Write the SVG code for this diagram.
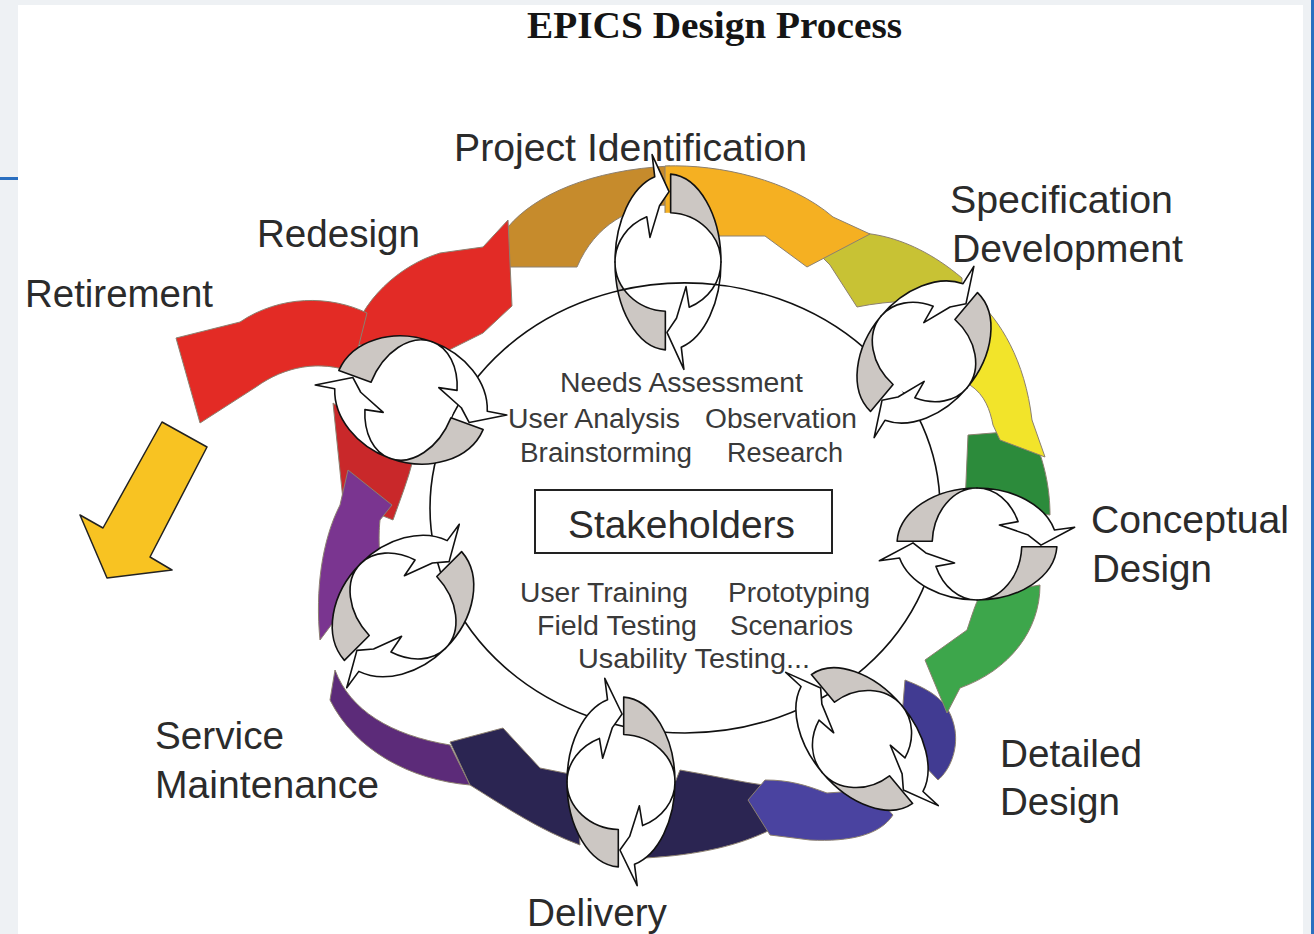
<svg xmlns="http://www.w3.org/2000/svg" xmlns:xlink="http://www.w3.org/1999/xlink" width="1314" height="934" viewBox="0 0 1314 934">
<style>
.lbl{font-family:"Liberation Sans",Arial,sans-serif;font-size:38px;fill:#2b2b2b}
.in{font-family:"Liberation Sans",Arial,sans-serif;font-size:27px;fill:#3a3a3a}
.g{fill:#ccc7c3;stroke:#111;stroke-width:1.6;vector-effect:non-scaling-stroke;stroke-linejoin:round}
.w{fill:#fff;stroke:#111;stroke-width:1.6;vector-effect:non-scaling-stroke;stroke-linejoin:round}
.hole{fill:#fff}
.band{stroke:#8c8070;stroke-width:1;stroke-linejoin:round}
</style>
<defs>
<g id="cyc">
<ellipse class="hole" cx="0" cy="0" rx="100" ry="56"/>
<path class="g" d="M 5,-99.87 A 100 100 0 0 1 100 0 A 100 56 0 0 0 5,-55.93 Z"/>
<path class="w" d="M -100,0 A 100 100 0 0 1 -25,-96.82 L -30,-122 L 2,-80 L -16,-64 L -34,-28 L -40,-51.3 A 100 56 0 0 0 -100,0 Z"/>
<g transform="rotate(180)">
<path class="g" d="M 5,-99.87 A 100 100 0 0 1 100 0 A 100 56 0 0 0 5,-55.93 Z"/>
<path class="w" d="M -100,0 A 100 100 0 0 1 -25,-96.82 L -30,-122 L 2,-80 L -16,-64 L -34,-28 L -40,-51.3 A 100 56 0 0 0 -100,0 Z"/>
</g>
</g>
</defs>
<rect x="0" y="0" width="1314" height="934" fill="#fff"/>
<rect x="0" y="0" width="18" height="934" fill="#eef1f4"/>
<rect x="0" y="0" width="1314" height="5" fill="#eef1f4"/>
<rect x="1303" y="0" width="9" height="934" fill="#eef1f4"/>
<rect x="1311" y="0" width="3" height="934" fill="#2a6fc0"/>
<rect x="0" y="177" width="18" height="3" fill="#2a6fc0"/>
<text x="527" y="38" font-family="'Liberation Serif',serif" font-weight="bold" font-size="37" fill="#151515" textLength="375" lengthAdjust="spacingAndGlyphs">EPICS Design Process</text>
<g id="connectors">
<path class="band" fill="#c8c234" d="M 805,240 C 850,225 905,230 962,278 L 962,300 C 930,300 890,300 857,307 L 830,265 Z"/>
<path class="band" fill="#c68b2c" d="M 508,227 C 535,195 590,170 670,166 L 670,205 C 630,205 595,225 577,267 L 508,267 Z"/>
<path class="band" fill="#f5b022" d="M 665,166 C 720,164 790,180 833,217 L 870,234 L 807,267 L 765,236 L 665,236 Z"/>
<path class="band" fill="#2c8b3b" d="M 968,435 L 1030,430 C 1045,460 1050,490 1050,515 L 965,505 Z"/>
<path class="band" fill="#f2e42a" d="M 975,298 C 1000,320 1025,360 1032,420 L 1045,457 L 1000,440 L 993,425 C 990,410 985,395 970,385 Z"/>
<path class="band" fill="#413b92" d="M 905,680 C 930,690 950,700 955,730 C 958,750 950,770 938,780 L 900,740 Z"/>
<path class="band" fill="#3da64b" d="M 1040,585 C 1040,630 1010,670 960,688 L 947,713 L 925,660 L 967,630 C 972,615 975,605 980,595 Z"/>
<path class="band" fill="#2b2552" d="M 680,770 C 710,775 740,782 770,786 L 770,830 C 740,845 700,855 645,858 Z"/>
<path class="band" fill="#4a43a0" d="M 893,815 C 880,835 850,842 810,840 L 770,835 L 748,800 L 765,780 C 790,780 805,785 827,793 L 870,790 Z"/>
<path class="band" fill="#5c2b79" d="M 335,670 C 350,710 390,735 450,745 L 470,785 C 410,780 355,750 330,700 Z"/>
<path class="band" fill="#2b2552" d="M 575,775 L 540,768 L 503,728 L 450,742 L 470,785 C 510,810 540,830 580,845 Z"/>
<path class="band" fill="#c9282a" d="M 333,403 L 413,460 C 408,480 400,500 393,520 L 343,500 Z"/>
<path class="band" fill="#7a3590" d="M 320,640 C 315,590 322,540 340,505 L 348,470 L 392,505 L 380,520 C 378,540 380,555 380,560 Z"/>
<path class="band" fill="#e22b26" d="M 350,345 C 360,300 400,265 440,253 L 483,247 L 508,220 L 512,306 L 483,333 L 445,352 C 430,355 415,345 405,345 Z"/>
<path class="band" fill="#e32b25" d="M 367,313 C 330,295 280,295 240,322 L 176,338 L 200,423 L 256,387 C 285,366 320,360 352,372 Z"/>
<path fill="#f8c322" stroke="#222" stroke-width="1.5" stroke-linejoin="round" d="M 162,422 L 207,447 L 150,557 L 172,570 L 107,578 L 80,515 L 103,528 Z"/>
<ellipse cx="685" cy="508" rx="255" ry="225" fill="none" stroke="#111" stroke-width="1.6"/>
</g>
<g id="center">
<rect x="535" y="490" width="297" height="63" fill="#fff" stroke="#222" stroke-width="2"/>
<text x="568" y="538" class="lbl" font-size="37" fill="#1a1a1a" textLength="227" lengthAdjust="spacingAndGlyphs">Stakeholders</text>
<text x="560" y="392" class="in" textLength="243" lengthAdjust="spacingAndGlyphs">Needs Assessment</text>
<text x="508" y="428" class="in" textLength="172" lengthAdjust="spacingAndGlyphs">User Analysis</text>
<text x="705" y="428" class="in" textLength="152" lengthAdjust="spacingAndGlyphs">Observation</text>
<text x="520" y="462" class="in" textLength="172" lengthAdjust="spacingAndGlyphs">Brainstorming</text>
<text x="727" y="462" class="in" textLength="116" lengthAdjust="spacingAndGlyphs">Research</text>
<text x="520" y="602" class="in" textLength="168" lengthAdjust="spacingAndGlyphs">User Training</text>
<text x="728" y="602" class="in" textLength="142" lengthAdjust="spacingAndGlyphs">Prototyping</text>
<text x="537" y="635" class="in" textLength="160" lengthAdjust="spacingAndGlyphs">Field Testing</text>
<text x="730" y="635" class="in" textLength="123" lengthAdjust="spacingAndGlyphs">Scenarios</text>
<text x="578" y="668" class="in" textLength="232" lengthAdjust="spacingAndGlyphs">Usability Testing...</text>
</g>
<g id="node-project-identification">
<use xlink:href="#cyc" transform="translate(668,262) scale(0.53,0.88)"/>
<path d="M 617,291 A 255 225 0 0 1 720,285" fill="none" stroke="#111" stroke-width="1.6"/>
<text x="454" y="161" class="lbl" textLength="353" lengthAdjust="spacingAndGlyphs">Project Identification</text>
</g>
<g id="node-specification-development">
<use xlink:href="#cyc" transform="translate(924,352) rotate(40) scale(0.56,0.8)"/>
<text x="950" y="213" class="lbl" textLength="223" lengthAdjust="spacingAndGlyphs">Specification</text>
<text x="952" y="262" class="lbl" textLength="231" lengthAdjust="spacingAndGlyphs">Development</text>
</g>
<g id="node-conceptual-design">
<use xlink:href="#cyc" transform="translate(977,544) rotate(90) scale(0.56,0.8)"/>
<text x="1091" y="533" class="lbl" textLength="198" lengthAdjust="spacingAndGlyphs">Conceptual</text>
<text x="1092" y="582" class="lbl" textLength="120" lengthAdjust="spacingAndGlyphs">Design</text>
</g>
<g id="node-detailed-design">
<use xlink:href="#cyc" transform="translate(862,739) rotate(-40) scale(0.52,0.82)"/>
<text x="1000" y="767" class="lbl" textLength="142" lengthAdjust="spacingAndGlyphs">Detailed</text>
<text x="1000" y="815" class="lbl" textLength="120" lengthAdjust="spacingAndGlyphs">Design</text>
</g>
<g id="node-delivery">
<use xlink:href="#cyc" transform="translate(621,782) scale(0.54,0.85)"/>
<text x="527" y="926" class="lbl" textLength="140" lengthAdjust="spacingAndGlyphs">Delivery</text>
</g>
<g id="node-service-maintenance">
<use xlink:href="#cyc" transform="translate(403,606) rotate(45) scale(0.6,0.8)"/>
<text x="155" y="749" class="lbl" textLength="129" lengthAdjust="spacingAndGlyphs">Service</text>
<text x="155" y="798" class="lbl" textLength="224" lengthAdjust="spacingAndGlyphs">Maintenance</text>
</g>
<g id="node-redesign">
<use xlink:href="#cyc" transform="translate(411,400) rotate(110) scale(0.62,0.78)"/>
<text x="257" y="247" class="lbl" textLength="163" lengthAdjust="spacingAndGlyphs">Redesign</text>
</g>
<g id="node-retirement">
<text x="25" y="307" class="lbl" textLength="188" lengthAdjust="spacingAndGlyphs">Retirement</text>
</g>
</svg>
